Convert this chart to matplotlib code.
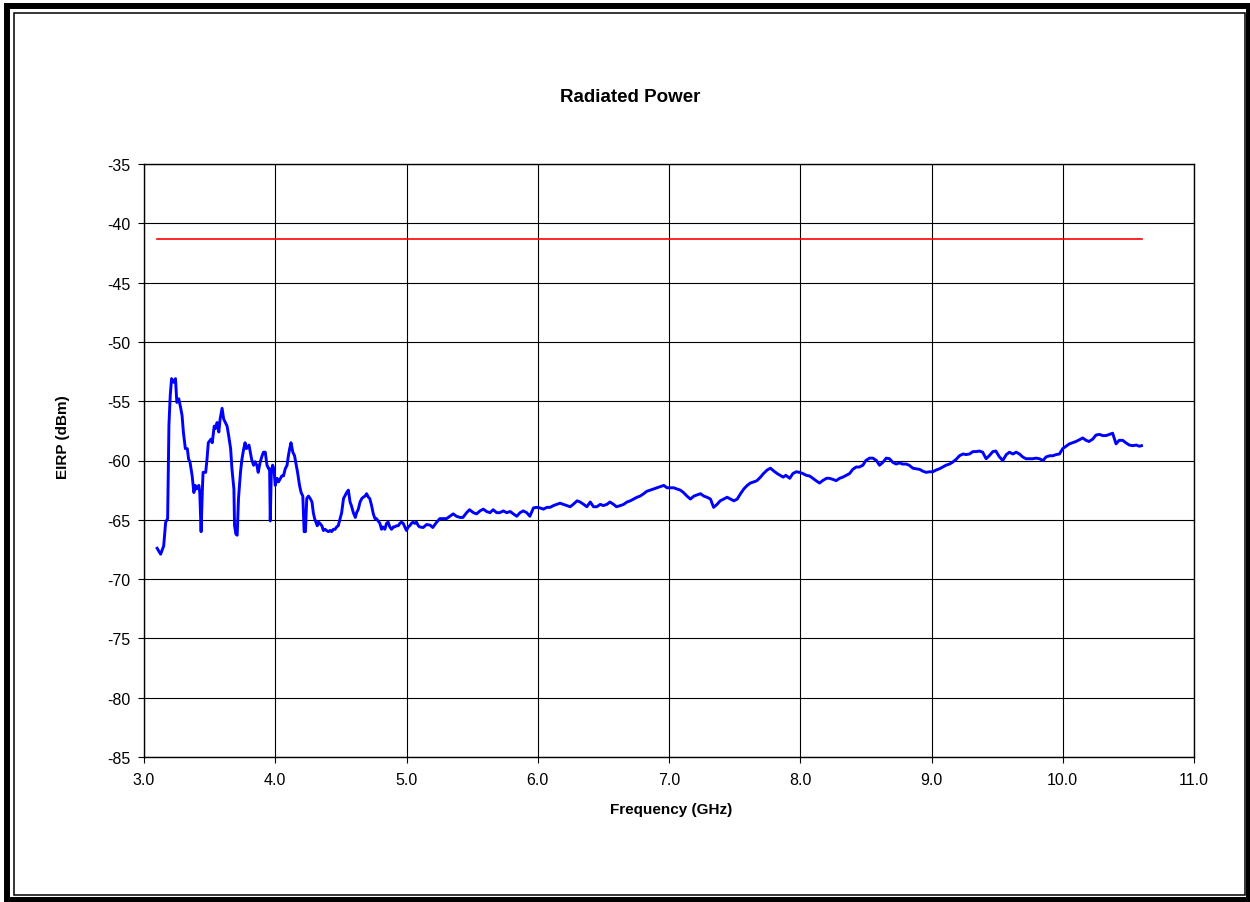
import numpy as np
import matplotlib
matplotlib.use("Agg")
import matplotlib.pyplot as plt
from matplotlib.patches import Rectangle

plt.rcParams['font.family'] = ['Liberation Sans', 'DejaVu Sans']
plt.rcParams['axes.unicode_minus'] = False

freq = [3.10, 3.127, 3.15, 3.165, 3.18, 3.19, 3.20, 3.21, 3.225, 3.24, 3.25, 3.265, 3.28, 3.29,
        3.30, 3.315, 3.33, 3.34, 3.35, 3.367, 3.38, 3.39, 3.40, 3.418, 3.425, 3.435, 3.445, 3.45,
        3.47, 3.48, 3.49, 3.51, 3.52, 3.535, 3.545, 3.557, 3.57, 3.58, 3.595, 3.607, 3.62, 3.633,
        3.645, 3.66, 3.67, 3.685, 3.69, 3.70, 3.71, 3.72, 3.735, 3.746, 3.76, 3.77, 3.78, 3.80,
        3.81, 3.82, 3.835, 3.846, 3.86, 3.87, 3.886, 3.90, 3.91, 3.924, 3.937, 3.95, 3.957, 3.962,
        3.97, 3.98, 3.99, 4.00, 4.013, 4.025, 4.04, 4.05, 4.063, 4.076, 4.09, 4.10, 4.11, 4.12,
        4.134, 4.147, 4.16, 4.17, 4.185, 4.197, 4.21, 4.22, 4.23, 4.24, 4.253, 4.266, 4.28, 4.29,
        4.30, 4.32, 4.33, 4.34, 4.355, 4.367, 4.38, 4.39, 4.405, 4.418, 4.43, 4.443, 4.456, 4.468,
        4.48, 4.494, 4.506, 4.52, 4.53, 4.544, 4.557, 4.57, 4.58, 4.595, 4.61, 4.62, 4.633, 4.646,
        4.66, 4.67, 4.684, 4.696, 4.71, 4.72, 4.734, 4.747, 4.76, 4.77, 4.785, 4.797, 4.81, 4.82,
        4.835, 4.848, 4.86, 4.873, 4.886, 4.90, 4.91, 4.924, 4.937, 4.95, 4.962, 4.975, 4.987,
        5.00, 5.013, 5.025, 5.038, 5.05, 5.063, 5.076, 5.09,
        5.10, 5.127, 5.153, 5.18, 5.20, 5.23, 5.254, 5.28, 5.305, 5.33, 5.356, 5.38, 5.407, 5.43,
        5.458, 5.48, 5.51, 5.534, 5.56, 5.585, 5.61, 5.636, 5.66, 5.687, 5.71, 5.738, 5.763, 5.79,
        5.814, 5.84, 5.865, 5.89, 5.916, 5.94, 5.967, 5.99, 6.018, 6.043, 6.07, 6.094, 6.12, 6.145,
        6.17, 6.196, 6.22, 6.247, 6.27, 6.30, 6.323, 6.35, 6.374, 6.40, 6.425, 6.45, 6.476, 6.50,
        6.527, 6.55, 6.578, 6.60, 6.63, 6.654, 6.68, 6.705, 6.73, 6.756, 6.78, 6.807, 6.83, 6.857,
        6.883, 6.908, 6.934, 6.96, 6.985, 7.01, 7.036, 7.06, 7.087, 7.11, 7.137, 7.163, 7.19,
        7.214, 7.24, 7.265, 7.29, 7.316, 7.34, 7.366, 7.39, 7.417, 7.443, 7.468, 7.494, 7.52,
        7.545, 7.57, 7.596, 7.62, 7.647, 7.67, 7.697, 7.72, 7.748, 7.773, 7.80, 7.824,
        7.87, 7.89, 7.92, 7.944, 7.97, 7.995, 8.02, 8.046, 8.07, 8.096, 8.12, 8.147, 8.17, 8.20,
        8.223, 8.25, 8.274, 8.30, 8.325, 8.35, 8.376, 8.40, 8.426, 8.45, 8.477, 8.50, 8.528, 8.553,
        8.58, 8.604, 8.63, 8.655, 8.68, 8.705, 8.73, 8.756, 8.78, 8.807, 8.83, 8.858, 8.883, 8.91,
        8.934, 8.96, 8.985, 9.01, 9.036, 9.06, 9.086, 9.11, 9.137, 9.16, 9.188, 9.213, 9.24, 9.264,
        9.29, 9.315, 9.34, 9.365, 9.39, 9.416, 9.44, 9.467, 9.49, 9.518, 9.543, 9.57, 9.594, 9.62,
        9.645, 9.67, 9.695, 9.72, 9.746, 9.77, 9.797, 9.822, 9.85, 9.873, 9.90, 9.924, 9.95, 9.975,
        10.0, 10.025, 10.05, 10.076, 10.10, 10.127, 10.152, 10.178, 10.20, 10.228, 10.254, 10.28,
        10.305, 10.33, 10.355, 10.38, 10.406, 10.43, 10.457, 10.48, 10.508, 10.533, 10.56, 10.584,
        10.60]

eirp = [-67.4, -67.9, -67.2, -65.2, -64.9, -57.0, -54.5, -53.1, -53.4, -53.1, -55.1, -54.8, -55.6,
        -56.2, -57.6, -59.0, -59.0, -59.9, -60.1, -61.3, -62.7, -62.1, -62.4, -62.1, -62.7, -66.0,
        -62.4, -61.0, -61.0, -59.9, -58.5, -58.2, -58.5, -57.1, -57.3, -56.8, -57.6, -56.5, -55.6,
        -56.5, -56.8, -57.1, -57.9, -59.0, -60.7, -62.4, -65.5, -66.2, -66.3, -63.2, -61.0, -59.9,
        -59.0, -58.5, -59.0, -58.7, -59.3, -59.9, -60.4, -60.1, -60.4, -61.0, -60.1, -59.6, -59.3,
        -59.3, -60.4, -60.7, -60.7, -65.1, -61.0, -60.4, -60.7, -62.1, -61.5, -61.8, -61.5, -61.3,
        -61.3, -60.7, -60.4, -59.6, -59.0, -58.5, -59.3, -59.6, -60.4, -61.0, -62.1, -62.7, -63.0,
        -66.0, -66.0, -63.2, -63.0, -63.2, -63.5, -64.4, -64.9, -65.5, -65.2, -65.3, -65.5, -65.9,
        -65.8, -65.9, -66.0, -65.9, -66.0, -65.8, -65.8, -65.6, -65.5, -64.9, -64.4, -63.2, -63.0,
        -62.7, -62.5, -63.5, -63.8, -64.4, -64.8, -64.4, -64.1, -63.5, -63.2, -63.1, -63.0, -62.8,
        -63.1, -63.2, -63.8, -64.5, -64.9, -64.9, -65.1, -65.3, -65.8, -65.6, -65.8, -65.3, -65.2,
        -65.6, -65.8, -65.6, -65.6, -65.5, -65.5, -65.3, -65.2, -65.3, -65.6, -65.9, -65.6, -65.5,
        -65.3, -65.2, -65.3, -65.2, -65.5,
        -65.6, -65.65, -65.4, -65.45, -65.65, -65.2, -64.9, -64.9, -64.9, -64.7, -64.5, -64.7,
        -64.8, -64.8, -64.4, -64.15, -64.4, -64.5, -64.25, -64.1, -64.3, -64.4, -64.15, -64.4,
        -64.4, -64.25, -64.4, -64.3, -64.5, -64.7, -64.4, -64.25, -64.4, -64.7, -64.0, -63.95,
        -64.0, -64.1, -63.95, -63.95, -63.8, -63.7, -63.6, -63.7, -63.8, -63.9, -63.7, -63.4,
        -63.5, -63.7, -63.9, -63.5, -63.9, -63.9, -63.7, -63.8, -63.7, -63.5, -63.7, -63.9, -63.8,
        -63.7, -63.5, -63.4, -63.25, -63.1, -63.0, -62.8, -62.6, -62.5, -62.4, -62.3, -62.2, -62.1,
        -62.3, -62.3, -62.3, -62.4, -62.5, -62.7, -63.0, -63.25, -63.0, -62.9, -62.8, -63.0, -63.1,
        -63.25, -63.95, -63.7, -63.4, -63.25, -63.1, -63.25, -63.4, -63.25, -62.8, -62.4, -62.1,
        -61.9, -61.8, -61.7, -61.4, -61.1, -60.8, -60.65, -60.9, -61.1,
        -61.4, -61.25, -61.5, -61.1, -60.95, -61.0, -61.1, -61.25, -61.3, -61.5, -61.7, -61.9,
        -61.7, -61.5, -61.5, -61.6, -61.7, -61.5, -61.4, -61.25, -61.1, -60.75, -60.55, -60.55,
        -60.4, -60.0, -59.8, -59.8, -60.0, -60.4, -60.15, -59.8, -59.85, -60.15, -60.3, -60.2,
        -60.3, -60.3, -60.4, -60.65, -60.7, -60.75, -60.9, -61.0, -60.95, -60.95, -60.8, -60.7,
        -60.55, -60.4, -60.3, -60.15, -59.9, -59.6, -59.45, -59.5, -59.45, -59.25, -59.25, -59.2,
        -59.3, -59.85, -59.6, -59.25, -59.2, -59.7, -60.0, -59.5, -59.3, -59.45, -59.3, -59.45,
        -59.7, -59.85, -59.85, -59.85, -59.8, -59.85, -60.0, -59.7, -59.6, -59.6, -59.5, -59.45,
        -59.0, -58.8, -58.6, -58.5, -58.4, -58.25, -58.1, -58.3, -58.4, -58.2, -57.85, -57.8,
        -57.9, -57.9, -57.8, -57.7, -58.6, -58.3, -58.3, -58.5, -58.7, -58.75, -58.7, -58.8,
        -58.75]

# Limit line
limit_freq = [3.1, 10.6]
limit_level = [-41.3, -41.3]

W, H = 1250, 903
fig = plt.figure(figsize=(W / 100, H / 100), dpi=100)

# Axes box in pixel terms: x 144..1194, y 165..758
ax = fig.add_axes([144 / W, 1 - 758 / H, (1194 - 144) / W, (758 - 165) / H])

ax.plot(freq, eirp, color='#0000FF', linewidth=2.1, solid_joinstyle='round')
ax.plot(limit_freq, limit_level, color='#FF0000', linewidth=1.2)

ax.set_xlim(3.0, 11.0)
ax.set_ylim(-85, -35)
ax.set_xticks(np.arange(3.0, 11.01, 1.0))
ax.set_xticklabels([f"{v:.1f}" for v in np.arange(3.0, 11.01, 1.0)])
ax.set_yticks(np.arange(-85, -34, 5))
ax.grid(True, color='black', linewidth=0.8)
ax.set_axisbelow(True)
ax.tick_params(axis='both', direction='out', length=4, width=0.8, labelsize=11.5,
               color='black')
ax.tick_params(axis='x', pad=7)
ax.tick_params(axis='y', pad=6)
for s in ax.spines.values():
    s.set_linewidth(1.0)
    s.set_color('black')

fig.text(630 / W, 1 - 97 / H, 'Radiated Power', ha='center', va='center',
         fontsize=13.5, fontweight='bold')
fig.text(671 / W, 1 - 810 / H, 'Frequency (GHz)', ha='center', va='center',
         fontsize=11, fontweight='bold')
fig.text(63 / W, 1 - 437 / H, 'EIRP (dBm)', ha='center', va='center',
         rotation=90, fontsize=11, fontweight='bold')

# Double border around the chart
fig.patches.append(Rectangle((7 / W, 1 - 900.5 / H), (1248.5 - 7) / W, (900.5 - 7) / H,
                             transform=fig.transFigure, fill=False,
                             edgecolor='black', linewidth=4.3))
fig.patches.append(Rectangle((13.5 / W, 1 - 896 / H), (1245 - 13.5) / W, (896 - 13.5) / H,
                             transform=fig.transFigure, fill=False,
                             edgecolor='black', linewidth=1.1))

fig.savefig('out.png', dpi=100)
